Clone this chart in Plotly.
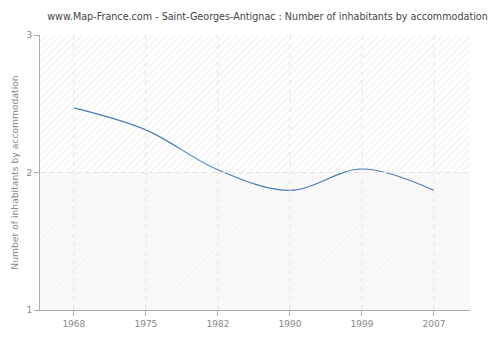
import plotly.graph_objects as go

years = ["1968", "1975", "1982", "1990", "1999", "2007"]
values = [2.47, 2.31, 2.02, 1.87, 2.025, 1.87]
y_ticks = [1, 2, 3]
title_text = "www.Map-France.com - Saint-Georges-Antignac : Number of inhabitants by accommodation"
y_title = "Number of inhabitants by accommodation"

xi = list(range(len(years)))
x_lo, x_hi = -0.47, len(years) - 0.5
y_lo, y_hi = 1, 3
y_mid = 2

fig = go.Figure()

# hatched backgrounds (upper band and lower band)
fig.add_trace(go.Scatter(
    x=[x_lo, x_hi, x_hi, x_lo, x_lo], y=[y_mid, y_mid, y_hi, y_hi, y_mid],
    mode="lines", line=dict(width=0), fill="toself", fillcolor="#ffffff",
    fillpattern=dict(shape="/", fgcolor="#e4e4e4", bgcolor="#ffffff", size=5, solidity=0.25),
    hoverinfo="skip", showlegend=False))
fig.add_trace(go.Scatter(
    x=[x_lo, x_hi, x_hi, x_lo, x_lo], y=[y_lo, y_lo, y_mid, y_mid, y_lo],
    mode="lines", line=dict(width=0), fill="toself", fillcolor="#fafafa",
    fillpattern=dict(shape="/", fgcolor="#efefef", bgcolor="#fafafa", size=5, solidity=0.25),
    hoverinfo="skip", showlegend=False))

fig.add_trace(go.Scatter(
    x=xi, y=values, mode="lines",
    line=dict(color="#4a7ab4", width=1.1, shape="spline", smoothing=1.0),
    showlegend=False))

# outer rounded card
r = 8
x0, y0, x1, y1 = 5, 5, 495, 335
W, H = 500, 340
def px(x): return x / W
def py(y): return 1 - y / H
path = (f"M {px(x0+r)} {py(y0)} L {px(x1-r)} {py(y0)} Q {px(x1)} {py(y0)} {px(x1)} {py(y0+r)} "
        f"L {px(x1)} {py(y1-r)} Q {px(x1)} {py(y1)} {px(x1-r)} {py(y1)} "
        f"L {px(x0+r)} {py(y1)} Q {px(x0)} {py(y1)} {px(x0)} {py(y1-r)} "
        f"L {px(x0)} {py(y0+r)} Q {px(x0)} {py(y0)} {px(x0+r)} {py(y0)} Z")

shapes = [dict(type="path", path=path, xref="paper", yref="paper",
               fillcolor="#efefef", line=dict(color="#e2e2e2", width=1), layer="below")]
grid_style = dict(color="#e4e4e4", width=1, dash="5px,4px")
for xv in xi:
    shapes.append(dict(type="line", xref="x", yref="y", x0=xv, x1=xv, y0=y_lo, y1=y_hi,
                       line=grid_style, layer="above"))
for yv in y_ticks[1:-1]:
    shapes.append(dict(type="line", xref="x", yref="y", x0=x_lo, x1=x_hi, y0=yv, y1=yv,
                       line=grid_style, layer="above"))

fig.update_layout(
    width=500, height=340,
    margin=dict(l=40, r=30, t=35, b=30),
    paper_bgcolor="#ffffff", plot_bgcolor="#ffffff",
    font=dict(family="DejaVu Sans", size=9, color="#888888"),
    title=dict(text=title_text, x=0.535, xref="container", xanchor="center",
               y=1 - 17 / 340, yref="container", yanchor="middle",
               font=dict(family="DejaVu Sans", size=9.6, color="#444444")),
    shapes=shapes,
    xaxis=dict(range=[x_lo, x_hi], tickvals=xi, ticktext=years,
               showgrid=False, automargin=False,
               showline=True, linecolor="#aaaaaa", linewidth=1,
               ticks="outside", ticklen=5, tickcolor="#aaaaaa",
               zeroline=False, fixedrange=True),
    yaxis=dict(range=[y_lo, y_hi], tickvals=y_ticks,
               showgrid=False, automargin=False,
               showline=True, linecolor="#aaaaaa", linewidth=1,
               ticks="outside", ticklen=5, tickcolor="#aaaaaa",
               zeroline=False, fixedrange=True,
               title=dict(text=y_title, font=dict(size=9.2, color="#888888"), standoff=6)),
)

fig.write_html("out.html", config={"displayModeBar": False},
               post_script="document.body.style.margin='0';")
